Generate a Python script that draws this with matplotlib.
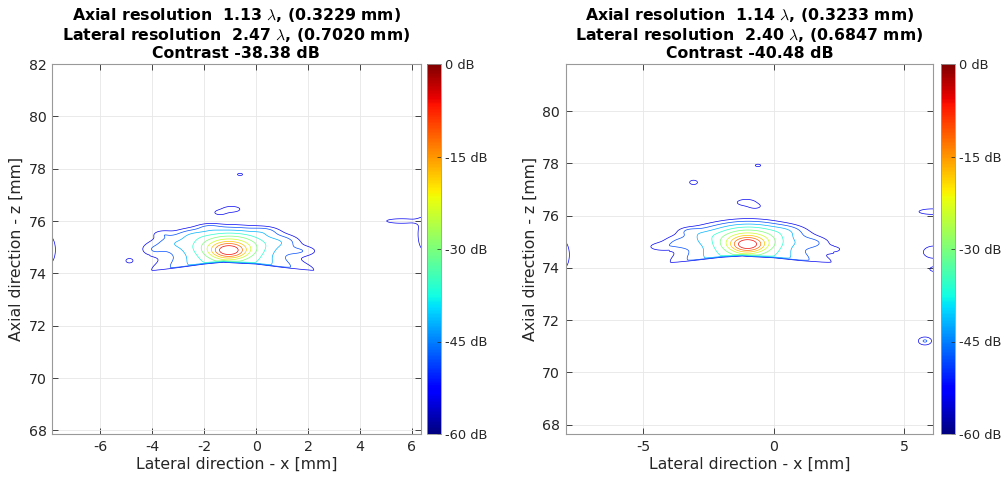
import numpy as np
import matplotlib
matplotlib.use("Agg")
import matplotlib.pyplot as plt
from matplotlib import cm, colors, ticker

plt.rcParams['font.family'] = ['DejaVu Sans']
plt.rcParams['mathtext.fontset'] = 'cm'
plt.rcParams['axes.unicode_minus'] = False

# ---------------- data ----------------
titles = [
    ["Axial resolution  1.13 $\\lambda$, (0.3229 mm)",
     "Lateral resolution  2.47 $\\lambda$, (0.7020 mm)",
     "Contrast -38.38 dB"],
    ["Axial resolution  1.14 $\\lambda$, (0.3233 mm)",
     "Lateral resolution  2.40 $\\lambda$, (0.6847 mm)",
     "Contrast -40.48 dB"],
]
xlims = [(-7.86, 6.33), (-7.97, 6.12)]
ylims = [(67.86, 82.0), (67.64, 81.8)]
xticks = [[-6, -4, -2, 0, 2, 4, 6], [-5, 0, 5]]
yticks = [[68, 70, 72, 74, 76, 78, 80, 82], [68, 70, 72, 74, 76, 78, 80]]
contour_levels_db = [-54, -48, -42, -36, -30, -24, -18, -12, -6]
cbar_ticks_db = [-60, -45, -30, -15, 0]

# blobs: x [mm], z [mm], peak level [dB], sigma_x, sigma_z
blobs_left = [
    (-1.05, 74.88, 0.0, 0.28, 0.13),
    (-1.05, 74.95, -15.0, 0.45, 0.20),
    (-1.00, 75.05, -27.0, 0.80, 0.30),
    (-1.20, 75.05, -39.0, 1.50, 0.38),
    (-0.95, 76.45, -48.0, 0.30, 0.10),
    (-1.40, 76.32, -50.0, 0.20, 0.08),
    (-2.40, 75.45, -48.0, 0.40, 0.14),
    (-1.80, 75.75, -50.0, 0.30, 0.10),
    (-3.20, 75.15, -49.0, 0.40, 0.16),
    (-3.95, 74.90, -51.0, 0.30, 0.16),
    (-3.60, 75.50, -52.0, 0.25, 0.10),
    (0.30, 75.60, -49.0, 0.35, 0.12),
    (0.90, 75.20, -48.0, 0.40, 0.15),
    (1.70, 74.85, -50.0, 0.45, 0.13),
    (-4.88, 74.48, -49.0, 0.13, 0.08),
    (-0.62, 77.78, -50.0, 0.12, 0.05),
    (5.60, 76.00, -49.0, 0.60, 0.09),
    (6.45, 75.50, -48.0, 0.20, 0.55),
    (-8.05, 74.90, -48.0, 0.30, 0.55),
]
blobs_right = [
    (-1.00, 74.90, 0.0, 0.27, 0.13),
    (-1.00, 74.97, -15.0, 0.45, 0.20),
    (-0.95, 75.08, -27.0, 0.75, 0.30),
    (-1.10, 75.05, -39.0, 1.50, 0.38),
    (-1.05, 76.50, -48.0, 0.32, 0.11),
    (-0.70, 76.35, -51.0, 0.20, 0.08),
    (-0.60, 77.92, -50.5, 0.14, 0.06),
    (-3.07, 77.27, -50.0, 0.18, 0.10),
    (-2.60, 75.25, -48.0, 0.45, 0.14),
    (-3.50, 74.95, -49.0, 0.45, 0.14),
    (-4.35, 74.80, -51.0, 0.35, 0.11),
    (-3.20, 75.40, -51.0, 0.25, 0.09),
    (0.40, 75.40, -48.0, 0.40, 0.14),
    (1.40, 74.95, -49.0, 0.45, 0.14),
    (2.25, 74.70, -51.0, 0.30, 0.10),
    (6.10, 76.15, -47.0, 0.45, 0.09),
    (6.15, 74.60, -47.0, 0.35, 0.20),
    (6.20, 73.95, -49.0, 0.22, 0.10),
    (5.80, 71.20, -46.0, 0.20, 0.12),
    (-8.15, 74.50, -48.0, 0.30, 0.55),
]
# lower side-lobe arc: anchor x, z and level
arc_x = [[-4.10, -3.0, -2.0, -1.25, 0.0, 1.0, 2.35],
         [-4.00, -3.0, -2.0, -1.20, 0.0, 1.0, 2.30]]
arc_z = [[74.10, 74.26, 74.42, 74.52, 74.42, 74.27, 74.10],
         [74.20, 74.33, 74.47, 74.55, 74.45, 74.32, 74.20]]
arc_db = [[-54, -45, -37, -30, -37, -45, -54],
          [-54, -45, -37, -30, -37, -45, -54]]
all_blobs = [blobs_left, blobs_right]

# ---------------- figure ----------------
W, H = 1006, 484
fig = plt.figure(figsize=(W / 100, H / 100), dpi=100)
ax_pos = [[52 / W, 1 - 434 / H, 368.5 / W, 370 / H],
          [565.7 / W, 1 - 434 / H, 367.6 / W, 370 / H]]
cb_pos = [[427 / W, 1 - 434 / H, 14 / W, 370 / H],
          [941 / W, 1 - 434 / H, 14 / W, 370 / H]]

grey = (0.15, 0.15, 0.15)

for k in range(2):
    norm = colors.Normalize(vmin=-60, vmax=0)
    ax = fig.add_axes(ax_pos[k])
    x = np.arange(xlims[k][0] - 0.5, xlims[k][1] + 0.5, 0.02)
    z = np.arange(ylims[k][0] - 0.5, ylims[k][1] + 0.5, 0.02)
    X, Z = np.meshgrid(x, z)
    F = np.full_like(X, 1e-4)
    for (bx, bz, bdb, sx, sz) in all_blobs[k]:
        F += 10 ** (bdb / 20) * np.exp(-((X - bx) ** 2) / (2 * sx ** 2) - ((Z - bz) ** 2) / (2 * sz ** 2))
    ax_ = np.array(arc_x[k]); az_ = np.array(arc_z[k]); adb = np.array(arc_db[k])
    zc = np.interp(x, ax_, az_)
    amp = 10 ** (np.interp(x, ax_, adb) / 20)
    inside = (x >= ax_[0]) & (x <= ax_[-1])
    amp = np.where(inside, amp, 0.0)
    dz = Z - zc[None, :]
    s = np.where(dz < 0, 0.035, 0.28)
    F += amp[None, :] * np.exp(-dz ** 2 / (2 * s ** 2))
    # sharp lower edge of the lobe along the arc
    near = (x >= ax_[0] - 0.4) & (x <= ax_[-1] + 0.4)
    below = np.clip(zc[None, :] - Z, 0, None)
    att = np.where(near[None, :], np.exp(-below ** 2 / (2 * 0.05 ** 2)), 1.0)
    F = F * att + 1e-4
    FdB = 20 * np.log10(F / F.max())
    ax.contour(X, Z, FdB, levels=contour_levels_db, cmap='jet', norm=norm, linewidths=0.5)

    ax.set_xlim(*xlims[k])
    ax.set_ylim(*ylims[k])
    ax.set_xticks(xticks[k])
    ax.set_yticks(yticks[k])
    ax.grid(True, color=(0.9, 0.9, 0.9), linewidth=0.6)
    ax.set_axisbelow(True)
    ax.tick_params(direction='in', top=True, right=True, length=4, width=0.6,
                   labelsize=10.2, colors=grey, labelcolor=grey, pad=4)
    for sp in ax.spines.values():
        sp.set_color((0.6, 0.6, 0.6))
        sp.set_linewidth(0.8)
    ax.set_xlabel("Lateral direction - x [mm]", fontsize=11.3, color=grey, labelpad=2)
    ax.set_ylabel("Axial direction - z [mm]", fontsize=11.3, color=grey, labelpad=3)
    ax.set_title("\n".join(titles[k]), fontsize=11.3, fontweight='bold', linespacing=1.17, pad=4)

    cax = fig.add_axes(cb_pos[k])
    sm = cm.ScalarMappable(norm=norm, cmap='jet')
    cb = fig.colorbar(sm, cax=cax, ticks=cbar_ticks_db)
    cb.formatter = ticker.FuncFormatter(lambda v, p: f"{int(round(v))} dB")
    cb.update_ticks()
    cb.outline.set_edgecolor((0.6, 0.6, 0.6))
    cb.outline.set_linewidth(0.6)
    cax.tick_params(direction='in', length=3, width=0.5, labelsize=9.4, colors=grey, pad=3)

fig.savefig("out.png", dpi=100)
